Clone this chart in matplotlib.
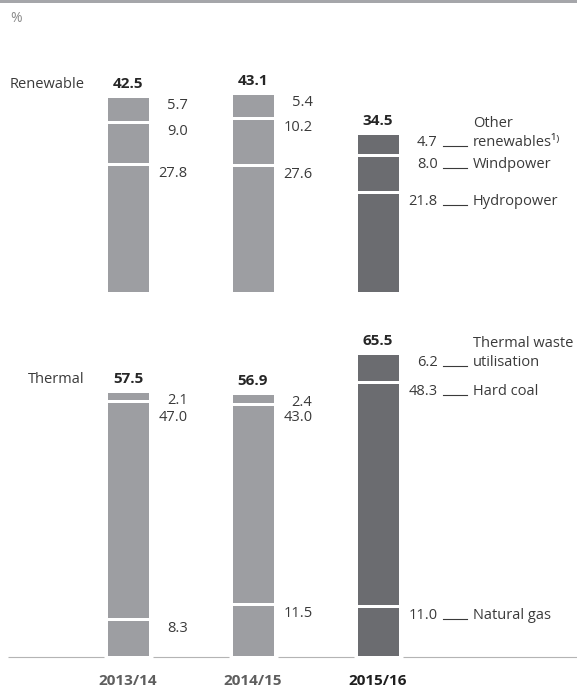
import matplotlib.pyplot as plt
from matplotlib.transforms import offset_copy

plt.rcParams["font.family"] = ["Open Sans", "DejaVu Sans"]

years = ["2013/14", "2014/15", "2015/16"]

# renewable shares, bottom to top
renew_total = [42.5, 43.1, 34.5]
hydro = [27.8, 27.6, 21.8]
wind = [9.0, 10.2, 8.0]
other_renew = [5.7, 5.4, 4.7]
renew_names = ["Hydropower", "Windpower", "Other\nrenewables¹⁾"]

# thermal shares, bottom to top
thermal_total = [57.5, 56.9, 65.5]
gas = [8.3, 11.5, 11.0]
coal = [47.0, 43.0, 48.3]
waste = [2.1, 2.4, 6.2]
thermal_names = ["Natural gas", "Hard coal", "Thermal waste\nutilisation"]

light = "#9d9ea2"
dark = "#6b6c70"
text_c = "#3a3a3a"

W, H = 577, 687
px_per_pct = 4.635
pt = 0.72  # points per pixel at dpi 100

fig = plt.figure(figsize=(W / 100, H / 100), dpi=100)


def make_ax(base_px, top_pct):
    ax = fig.add_axes([0, (H - base_px) / H, 1, top_pct * px_per_pct / H])
    ax.set_ylim(0, top_pct)
    ax.set_xlim(-128 / 125, (W - 128) / 125)
    ax.axis("off")
    return ax


def draw_panel(ax, segments, totals, names, title, nudges):
    x = list(range(len(years)))
    colors = [light, light, dark]
    bottom = [0.0] * len(years)
    for k, seg in enumerate(segments):
        ax.bar(x, seg, bottom=bottom, width=44 / 125, color=colors,
               edgecolor="white", linewidth=3 * pt, zorder=2)
        for i in x:
            top = bottom[i] + seg[i]
            dy = -(13 + nudges[k][i]) * pt
            ax.annotate(f"{seg[i]:.1f}", xy=(i, top), xytext=(59.5 * pt, dy),
                        textcoords="offset points", ha="right", va="baseline",
                        fontsize=10.5, color=text_c)
            if i == 2:
                # leader line + name for the latest year
                tr = offset_copy(ax.transData, fig=fig, x=0, y=dy, units="points")
                ax.plot([i + 65 / 125, i + 89 / 125], [top, top], transform=tr,
                        color=text_c, lw=0.8, clip_on=False)
                for j, line in enumerate(reversed(names[k].split("\n"))):
                    ax.annotate(line, xy=(i, top),
                                xytext=(95 * pt, dy + 19 * pt * j),
                                textcoords="offset points", ha="left",
                                va="baseline", fontsize=10.5, color=text_c)
        bottom = [b + s for b, s in zip(bottom, seg)]

    for i in x:
        ax.annotate(f"{totals[i]:.1f}", xy=(i, bottom[i]), xytext=(0, 8 * pt),
                    textcoords="offset points", ha="center", va="baseline",
                    fontsize=11, fontweight="bold", color="#262626")

    ax.annotate(title, xy=(85 / W, bottom[0]), xycoords=("axes fraction", "data"),
                xytext=(0, 8 * pt), textcoords="offset points", ha="right",
                va="baseline", fontsize=10.5, color=text_c)


ax_r = make_ax(293, 50)
ax_t = make_ax(657, 70)

draw_panel(ax_r, [hydro, wind, other_renew], renew_total, renew_names,
           "Renewable", [[0, 0, 0], [0, 0, 0], [0, 0, 0]])
draw_panel(ax_t, [gas, coal, waste], thermal_total, thermal_names,
           "Thermal", [[0, 0, 0], [7, 4, 0], [0, 0, 0]])

# baseline, broken around each bar
gap = 24.5 / 125
starts = [(8 - 128) / 125] + [i + gap for i in range(len(years))]
ends = [i - gap for i in range(len(years))] + [(W - 128) / 125]
ax_t.hlines([0] * len(starts), starts, ends, color="#b4b4b4", lw=0.8,
            zorder=1, clip_on=False)

for i, yr in enumerate(years):
    ax_t.annotate(yr, xy=(i, 0), xytext=(0, -24 * pt), textcoords="offset points",
                  ha="center", va="center", fontsize=11, fontweight="bold",
                  color="#1e1e1e" if i == 2 else "#5e5e5e")

# top rule and unit
fig.add_artist(plt.Rectangle((0, 1 - 3 / H), 1, 3 / H, transform=fig.transFigure,
                             color="#a5a6aa", lw=0))
fig.text(10 / W, 1 - 18 / H, "%", va="center", fontsize=10, color="#8a8a8a")

fig.savefig("out.png", dpi=100)
